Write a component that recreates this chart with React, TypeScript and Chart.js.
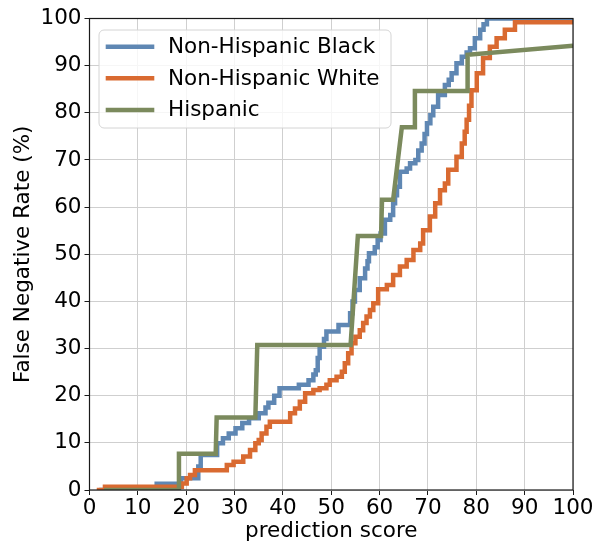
import { useEffect, useRef } from "react";
import { Chart, registerables } from "chart.js";

Chart.register(...registerables);

// Axis ticks
const scoreTicks = [0, 10, 20, 30, 40, 50, 60, 70, 80, 90, 100];
const rateTicks = [0, 10, 20, 30, 40, 50, 60, 70, 80, 90, 100];

// Non-Hispanic Black: score where the rate steps up, and the new rate (%)
const blackScores = [2, 13.9, 18.9, 22.5, 23.0, 26.4, 27.6, 28.8, 30.2, 31.6, 33.0, 35.0, 36.4, 37.0, 38.2, 39.3, 43.3, 45.3, 46.3, 46.8, 47.2, 47.6, 48.5, 49.0, 51.5, 53.9, 54.4, 54.9, 55.9, 57.0, 57.5, 57.8, 59.0, 59.6, 60.2, 61.1, 62.2, 62.8, 63.2, 63.6, 64.2, 65.6, 66.3, 67.4, 68.0, 68.7, 69.3, 69.8, 70.5, 71.1, 72.1, 73.5, 74.3, 74.9, 75.9, 77.0, 78.0, 78.7, 79.7, 80.8, 81.5, 82.2, 100];
const blackFnr = [0, 1.3, 2.5, 5.0, 7.4, 9.9, 11.0, 12.0, 13.1, 14.2, 15.2, 16.3, 17.5, 18.5, 20.0, 21.6, 22.3, 23.3, 24.5, 25.4, 28.0, 30.4, 32.0, 33.6, 35.0, 37.5, 40.0, 42.4, 44.9, 47.0, 48.5, 50.2, 51.5, 53.0, 54.4, 57.3, 58.3, 60.8, 62.5, 64.3, 67.5, 68.2, 69.3, 70.0, 72.0, 73.5, 75.5, 77.8, 79.5, 81.3, 83.8, 85.9, 87.0, 88.4, 90.5, 91.9, 92.8, 93.7, 95.8, 97.6, 98.8, 100, 100];

// Non-Hispanic White: score where the rate steps up, and the new rate (%)
const whiteScores = [1.5, 3.2, 19.1, 20.1, 20.8, 21.8, 28.4, 29.8, 31.8, 33.2, 34.3, 35.0, 35.6, 36.6, 37.3, 41.5, 42.5, 43.5, 44.6, 46.3, 47.6, 49.0, 49.7, 51.1, 52.2, 52.8, 53.5, 54.2, 55.0, 55.9, 56.6, 57.3, 58.0, 58.7, 59.7, 61.5, 62.8, 64.2, 65.6, 67.0, 68.4, 69.0, 70.4, 71.5, 72.5, 73.5, 74.2, 75.9, 77.0, 77.6, 78.0, 78.5, 79.0, 80.1, 81.4, 82.8, 84.2, 85.9, 88.0, 100];
const whiteFnr = [0, 0.7, 1.4, 2.5, 3.2, 4.2, 5.3, 6.0, 7.1, 8.5, 9.9, 10.6, 12.0, 13.4, 14.5, 16.3, 17.3, 18.7, 20.5, 21.2, 21.6, 22.3, 23.3, 24.0, 25.1, 26.9, 29.0, 31.1, 32.5, 33.9, 35.4, 36.8, 38.2, 39.6, 42.6, 43.5, 45.6, 47.4, 48.8, 50.9, 52.3, 55.1, 58.0, 60.8, 63.6, 65.0, 67.9, 70.7, 73.5, 76.0, 78.5, 81.5, 84.8, 88.4, 91.6, 94.0, 95.8, 97.6, 99.2, 99.2];

// Hispanic: curve vertices (score, rate %)
const hispanicScores = [3.0, 18.4, 18.5, 26.1, 26.3, 34.3, 34.7, 54.0, 55.5, 60.3, 60.5, 62.8, 64.6, 67.2, 67.3, 78.1, 78.2, 100];
const hispanicFnr = [0, 0, 7.69, 7.69, 15.38, 15.38, 30.77, 30.77, 53.85, 53.85, 61.54, 61.54, 76.92, 76.92, 84.62, 84.62, 92.31, 94.2];

const seriesNames = ["Non-Hispanic Black", "Non-Hispanic White", "Hispanic"];
const seriesColors = ["#5f87b3", "#d96a31", "#7b8a5d"];

const FONT = "'DejaVu Sans', 'Liberation Sans', sans-serif";

const toPoints = (xs: number[], ys: number[]) => xs.map((x, i) => ({ x, y: ys[i] }));

// Draws the black axes frame and the boxed legend inside the plot
const framePlugin = {
  id: "frameAndLegend",
  afterDatasetsDraw(chart: any) {
    const { ctx, chartArea } = chart;
    const { left, top, right, bottom } = chartArea;
    ctx.save();
    ctx.strokeStyle = "#1a1a1a";
    ctx.lineWidth = 1.2;
    ctx.strokeRect(left, top, right - left, bottom - top);

    const x0 = left + 9.5;
    const y0 = top + 11.5;
    const w = 292;
    const h = 98;
    ctx.beginPath();
    ctx.roundRect(x0, y0, w, h, 5);
    ctx.fillStyle = "rgba(255,255,255,0.8)";
    ctx.fill();
    ctx.strokeStyle = "#d4d4d4";
    ctx.lineWidth = 1;
    ctx.stroke();

    chart.data.datasets.forEach((ds: any, i: number) => {
      const cy = y0 + 16.7 + i * 31.6;
      ctx.beginPath();
      ctx.moveTo(x0 + 6.7, cy);
      ctx.lineTo(x0 + 55.3, cy);
      ctx.strokeStyle = ds.borderColor;
      ctx.lineWidth = 4.5;
      ctx.lineCap = "butt";
      ctx.stroke();
      ctx.fillStyle = "#000";
      ctx.font = `21.5px ${FONT}`;
      ctx.textBaseline = "middle";
      ctx.textAlign = "left";
      ctx.fillText(ds.label, x0 + 69, cy + 1);
    });
    ctx.restore();
  },
};

export default function App() {
  const canvasRef = useRef<HTMLCanvasElement | null>(null);

  useEffect(() => {
    const canvas = canvasRef.current;
    if (!canvas) return;
    const chart = new Chart(canvas, {
      type: "line",
      data: {
        datasets: [
          {
            label: seriesNames[0],
            data: toPoints(blackScores, blackFnr),
            borderColor: seriesColors[0],
            borderWidth: 4.5,
            stepped: "before",
            order: 2,
          },
          {
            label: seriesNames[1],
            data: toPoints(whiteScores, whiteFnr),
            borderColor: seriesColors[1],
            borderWidth: 4.5,
            stepped: "before",
            order: 1,
          },
          {
            label: seriesNames[2],
            data: toPoints(hispanicScores, hispanicFnr),
            borderColor: seriesColors[2],
            borderWidth: 4.5,
            order: 0,
          },
        ] as any,
      },
      options: {
        responsive: false,
        animation: false,
        devicePixelRatio: 1,
        layout: { padding: { left: 0, right: 32, top: 18.5, bottom: 0 } },
        elements: { point: { radius: 0 }, line: { tension: 0, borderJoinStyle: "miter", borderCapStyle: "butt" } },
        datasets: { line: { clip: 0 } as any },
        plugins: { legend: { display: false }, tooltip: { enabled: false } },
        scales: {
          x: {
            type: "linear",
            min: 0,
            max: 100,
            afterFit: (s: any) => {
              s.height = 58;
            },
            afterBuildTicks: (s: any) => {
              s.ticks = scoreTicks.map((v) => ({ value: v }));
            },
            ticks: {
              font: { family: FONT, size: 21.5, lineHeight: 1 },
              color: "#000",
              padding: 2.5,
              maxRotation: 0,
              autoSkip: false,
            },
            grid: { color: "#cfcfcf", lineWidth: 1, tickColor: "#1a1a1a", tickLength: 5, tickWidth: 1 },
            border: { display: false },
            title: {
              display: true,
              text: "prediction score",
              color: "#000",
              font: { family: FONT, size: 21.5 },
              padding: { top: 0, bottom: 3.5 },
            },
          },
          y: {
            type: "linear",
            min: 0,
            max: 100,
            afterFit: (s: any) => {
              s.width = 89.5;
            },
            afterBuildTicks: (s: any) => {
              s.ticks = rateTicks.map((v) => ({ value: v }));
            },
            ticks: {
              font: { family: FONT, size: 21.5, lineHeight: 1 },
              color: "#000",
              padding: 3,
              autoSkip: false,
            },
            grid: { color: "#cfcfcf", lineWidth: 1, tickColor: "#1a1a1a", tickLength: 5, tickWidth: 1 },
            border: { display: false },
            title: {
              display: true,
              text: "False Negative Rate (%)",
              color: "#000",
              font: { family: FONT, size: 21.5 },
              padding: { top: 10.5, bottom: 0 },
            },
          },
        },
      },
      plugins: [framePlugin],
    });
    return () => chart.destroy();
  }, []);

  return (
    <canvas
      ref={canvasRef}
      width={605}
      height={548}
      style={{ position: "fixed", left: 0, top: 0, width: 605, height: 548, background: "#fff" }}
    />
  );
}
